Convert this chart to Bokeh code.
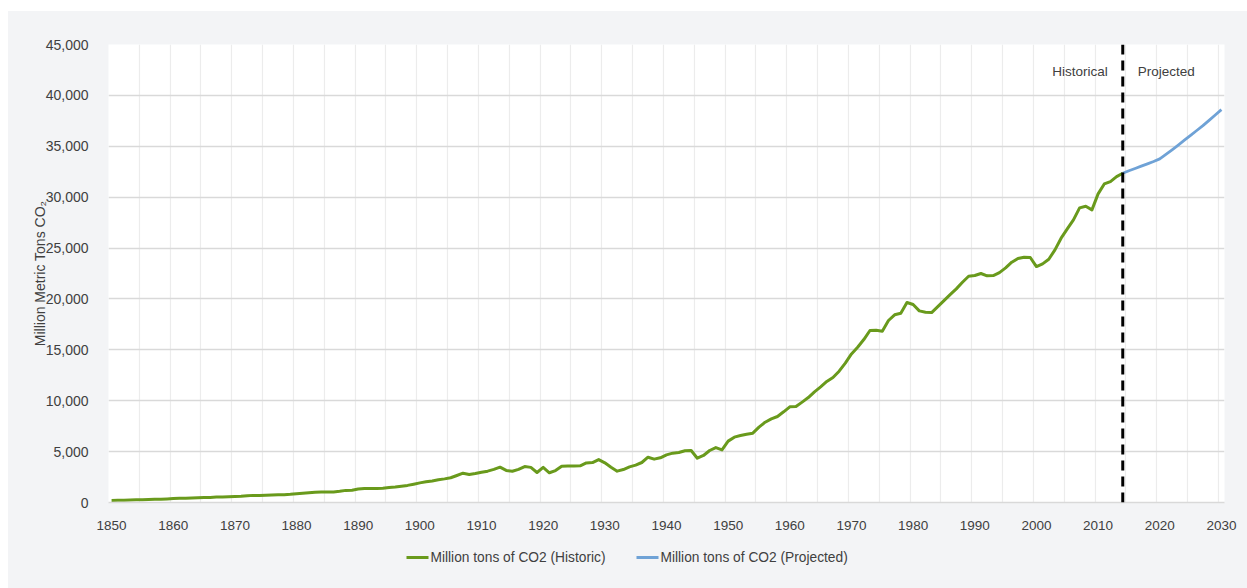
from bokeh.plotting import figure
from bokeh.layouts import column
from bokeh.models import (Range1d, FixedTicker, Span, Label, NumeralTickFormatter,
                          ColumnDataSource)
from bokeh.core.properties import value
from bokeh.embed import file_html
from bokeh.resources import INLINE

# ---------------- data ----------------
hist_years = list(range(1850, 2015))
hist_values = [
    200, 210, 220, 240, 260, 280, 300, 310, 320, 350,            # 1850s
    390, 410, 420, 440, 460, 480, 500, 530, 550, 570,            # 1860s
    600, 620, 660, 700, 690, 720, 740, 760, 770, 800,            # 1870s
    860, 900, 950, 1010, 1020, 1030, 1040, 1100, 1190, 1210,     # 1880s
    1320, 1380, 1380, 1370, 1400, 1480, 1520, 1600, 1680, 1800,  # 1890s
    1930, 2030, 2120, 2230, 2320, 2430, 2650, 2880, 2760, 2850,  # 1900s
    2980, 3080, 3250, 3470, 3150, 3070, 3250, 3530, 3450, 2950,  # 1910s
    3450, 2920, 3140, 3570, 3580, 3590, 3600, 3890, 3920, 4220,  # 1920s
    3900, 3470, 3080, 3240, 3500, 3670, 3930, 4450, 4260, 4390,  # 1930s
    4680, 4850, 4910, 5080, 5110, 4350, 4620, 5110, 5400, 5170,  # 1940s
    6030, 6420, 6580, 6710, 6810, 7400, 7890, 8220, 8450, 8910,  # 1950s
    9400, 9430, 9860, 10310, 10870, 11360, 11890, 12280, 12900, 13690,   # 1960s
    14600, 15260, 16010, 16900, 16930, 16830, 17880, 18440, 18600, 19650,  # 1970s
    19450, 18830, 18700, 18660, 19250, 19840, 20430, 20990, 21640, 22230,  # 1980s
    22300, 22500, 22270, 22300, 22590, 23050, 23610, 23970, 24100, 24070,  # 1990s
    23180, 23450, 23900, 24820, 25970, 26880, 27770, 28950, 29110, 28750,  # 2000s
    30320, 31300, 31530, 32020, 32350,                                     # 2010-2014
]
proj_years = list(range(2014, 2031))
proj_values = [32350, 32600, 32820, 33050, 33270, 33500, 33760,
               34200, 34650, 35120, 35600, 36080, 36550, 37030,
               37550, 38070, 38600]

x_tick_labels = list(range(1850, 2031, 10))
y_ticks = list(range(0, 45001, 5000))
divide_year = 2014
series_names = ["Million tons of CO2 (Historic)", "Million tons of CO2 (Projected)"]
region_labels = ["Historical", "Projected"]

FONT = "Liberation Sans"
TXT = "#404040"
BG = "#f3f4f6"
GREEN = "#699a1c"
BLUE = "#6fa2d6"
series_colors = [GREEN, BLUE]

p = figure(width=1239, height=529, output_backend="svg", toolbar_location=None,
           x_range=Range1d(1849.5, 2030.5), y_range=Range1d(0, 45000),
           min_border_left=100, min_border_right=23, min_border_top=33,
           min_border_bottom=38)
p.background_fill_color = "white"
p.border_fill_color = BG
p.outline_line_color = None

# grids
p.ygrid.ticker = FixedTicker(ticks=y_ticks)
p.ygrid.grid_line_color = "#d9d9d9"
p.ygrid.grid_line_width = 1.5
p.xgrid.ticker = FixedTicker(ticks=[1849.5 + 5 * k for k in range(37)])
p.xgrid.grid_line_color = "#ececec"
p.xgrid.grid_line_width = 1.2

# axes
p.xaxis.ticker = FixedTicker(ticks=x_tick_labels)
p.yaxis.ticker = FixedTicker(ticks=y_ticks)
p.yaxis.formatter = NumeralTickFormatter(format="0,0")
for ax in (p.xaxis[0], p.yaxis[0]):
    ax.major_tick_line_color = None
    ax.minor_tick_line_color = None
    ax.major_label_text_font = FONT
    ax.major_label_text_color = TXT
p.xaxis.major_label_text_font_size = "13.5px"
p.yaxis.major_label_text_font_size = "14px"
p.xaxis.axis_line_color = "#d9d9d9"
p.xaxis.axis_line_width = 1.5
p.xaxis.major_label_standoff = 12
p.yaxis.axis_line_color = None
p.yaxis.major_label_standoff = 14
p.yaxis.axis_label = "Million Metric Tons CO\u2082"
p.yaxis.axis_label_text_font = FONT
p.yaxis.axis_label_text_font_style = "normal"
p.yaxis.axis_label_text_font_size = "14px"
p.yaxis.axis_label_text_color = TXT
p.yaxis.axis_label_standoff = -5

hist_src = ColumnDataSource(dict(x=hist_years, y=hist_values))
proj_src = ColumnDataSource(dict(x=proj_years, y=proj_values))
p.line("x", "y", source=proj_src, line_color=BLUE, line_width=2.8, line_join="round")
p.line("x", "y", source=hist_src, line_color=GREEN, line_width=3, line_join="round")

p.add_layout(Span(location=divide_year, dimension="height", line_color="black",
                  line_width=3, line_dash="10 6"))

p.add_layout(Label(x=divide_year, y=431, y_units="screen", x_offset=-15,
                   text=region_labels[0], text_align="right", text_baseline="middle",
                   text_font=FONT, text_font_size="13.5px", text_color=TXT))
p.add_layout(Label(x=divide_year, y=431, y_units="screen", x_offset=15,
                   text=region_labels[1], text_align="left", text_baseline="middle",
                   text_font=FONT, text_font_size="13.5px", text_color=TXT))

# ---- legend strip below the chart; its frame aligns with the main frame,
# so its x range is expressed in page pixels (108 .. 1224) ----
H2 = 48
p2 = figure(width=1239, height=H2, output_backend="svg", toolbar_location=None,
            x_range=Range1d(108, 1224), y_range=Range1d(0, H2),
            x_axis_type=None, y_axis_type=None,
            min_border_left=100, min_border_right=23, min_border_top=0,
            min_border_bottom=0)
p2.background_fill_color = BG
p2.border_fill_color = BG
p2.outline_line_color = None
p2.grid.visible = False

key_x0 = [406, 636]     # left end of each legend key (page px)
key_len = 22
key_y = 31
p2.segment(x0=key_x0, x1=[k + key_len for k in key_x0], y0=[key_y] * 2, y1=[key_y] * 2,
           line_color=series_colors, line_width=[3, 2.8])
p2.text(x=[k + key_len + 2 for k in key_x0], y=[key_y] * 2, text=series_names,
        text_font=value(FONT), text_font_size="13.75px", text_color=TXT,
        text_baseline="middle", text_align="left")

layout = column(p, p2, spacing=0, margin=(11, 0, 0, 8),
                styles={"background-color": BG})
open("out.html", "w").write(file_html(layout, INLINE))
